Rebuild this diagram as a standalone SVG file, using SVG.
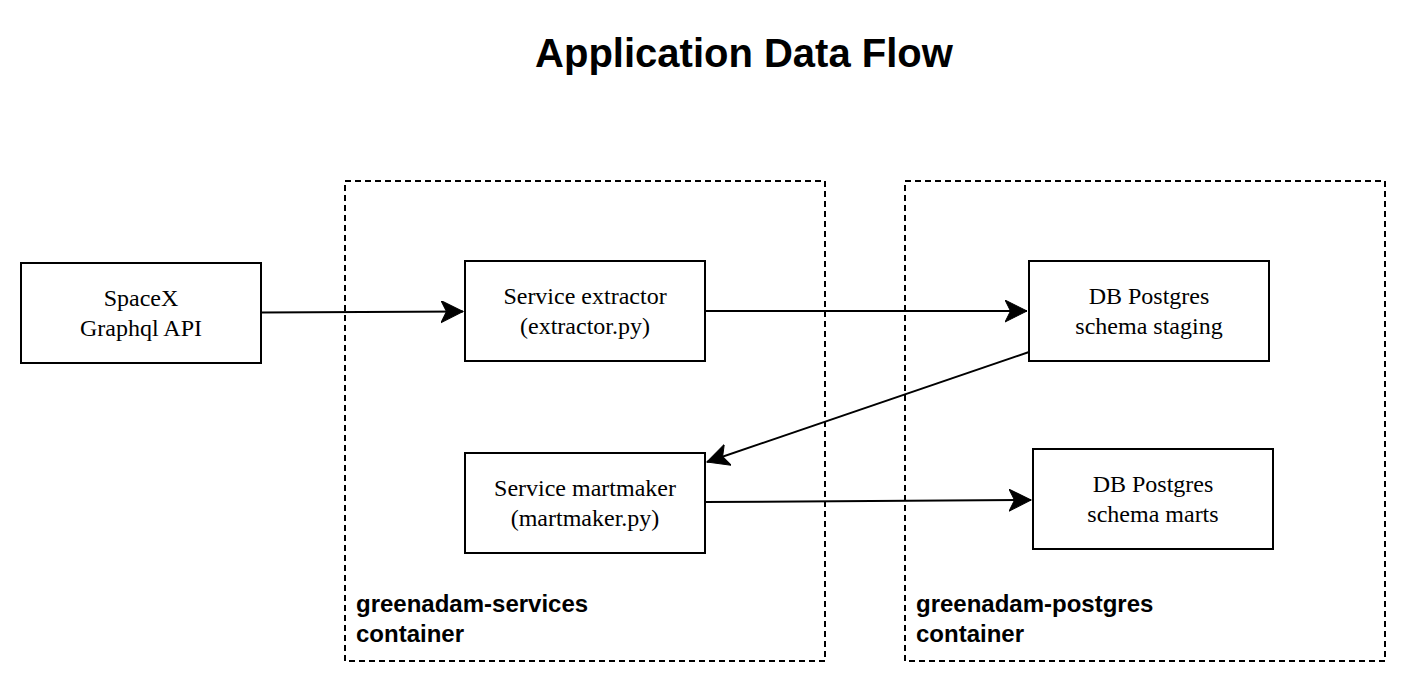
<svg xmlns="http://www.w3.org/2000/svg" width="1406" height="682" viewBox="0 0 1406 682">
<style>
.box{fill:#fff;stroke:#000;stroke-width:2}
.cont{fill:none;stroke:#000;stroke-width:2;stroke-dasharray:6 4}
.lbl{font-family:"Liberation Serif",serif;font-size:24px;fill:#000;text-anchor:middle}
.clbl{font-family:"Liberation Sans",sans-serif;font-size:24px;font-weight:bold;fill:#000}
.edge{fill:none;stroke:#000;stroke-width:2}
.title{font-family:"Liberation Sans",sans-serif;font-size:40px;font-weight:bold;fill:#000;text-anchor:middle}
</style>
<defs>
<marker id="arr" markerUnits="userSpaceOnUse" markerWidth="30" markerHeight="30" refX="22" refY="11" orient="auto" viewBox="0 0 30 30">
<path d="M22,11 L0,0 L5.5,11 L0,22 Z" fill="#000" stroke="#000" stroke-width="1"/>
</marker>
</defs>
<rect width="1406" height="682" fill="#fff"/>
<text class="title" x="744" y="67">Application Data Flow</text>
<g id="container-services">
<rect class="cont" x="345" y="181" width="480" height="480"/>
<text class="clbl" x="356" y="612">greenadam-services</text>
<text class="clbl" x="356" y="642">container</text>
</g>
<g id="container-postgres">
<rect class="cont" x="905" y="181" width="480" height="480"/>
<text class="clbl" x="916" y="612">greenadam-postgres</text>
<text class="clbl" x="916" y="642">container</text>
</g>
<g id="connectors">
<path class="edge" d="M261,312.5 L463,311.5" marker-end="url(#arr)"/>
<path class="edge" d="M705,311 L1027,311" marker-end="url(#arr)"/>
<path class="edge" d="M1029,352 L707,462" marker-end="url(#arr)"/>
<path class="edge" d="M705,502 L1031,500" marker-end="url(#arr)"/>
</g>
<g id="spacex">
<rect class="box" x="21" y="263" width="240" height="100"/>
<text class="lbl" x="141" y="306">SpaceX</text>
<text class="lbl" x="141" y="336">Graphql API</text>
</g>
<g id="extractor">
<rect class="box" x="465" y="261" width="240" height="100"/>
<text class="lbl" x="585" y="304">Service extractor</text>
<text class="lbl" x="585" y="334">(extractor.py)</text>
</g>
<g id="martmaker">
<rect class="box" x="465" y="453" width="240" height="100"/>
<text class="lbl" x="585" y="496">Service martmaker</text>
<text class="lbl" x="585" y="526">(martmaker.py)</text>
</g>
<g id="staging">
<rect class="box" x="1029" y="261" width="240" height="100"/>
<text class="lbl" x="1149" y="304">DB Postgres</text>
<text class="lbl" x="1149" y="334">schema staging</text>
</g>
<g id="marts">
<rect class="box" x="1033" y="449" width="240" height="100"/>
<text class="lbl" x="1153" y="492">DB Postgres</text>
<text class="lbl" x="1153" y="522">schema marts</text>
</g>
</svg>
